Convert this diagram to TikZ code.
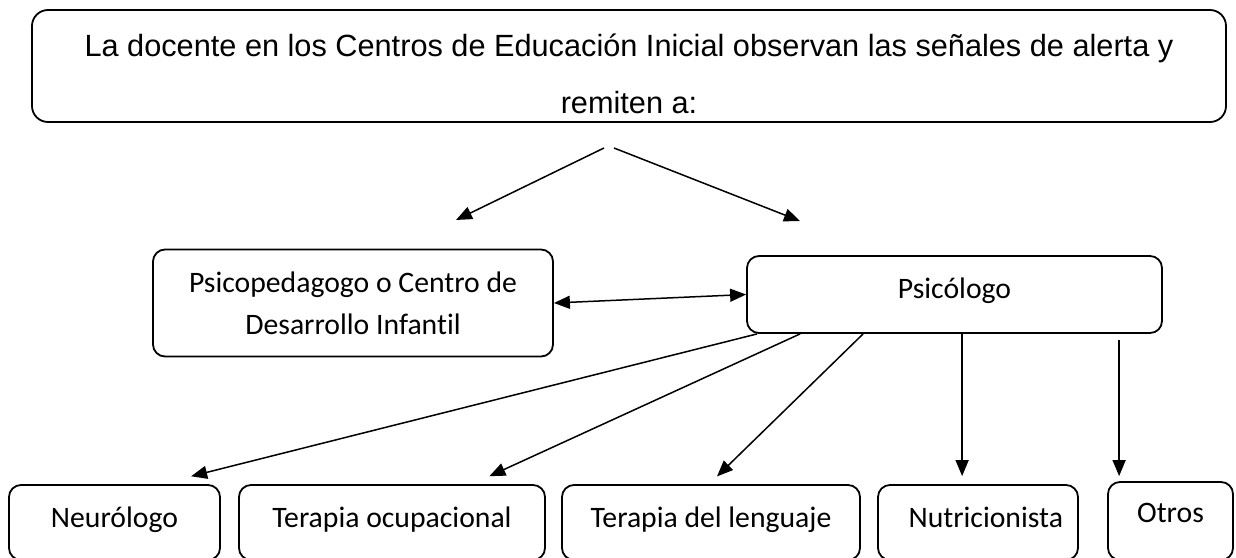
\documentclass[tikz,border=0pt]{standalone}
\usepackage{fontspec}
\setmainfont{Carlito}[Ligatures=NoCommon]
\newfontfamily\arialfont{Liberation Sans}
\usetikzlibrary{arrows.meta}

\begin{document}
\begin{tikzpicture}[x=1pt,y=-1pt]

\tikzstyle{box}=[rectangle,draw,line width=1.8pt,rounded corners=12pt,inner sep=0pt,font=\fontsize{29.7}{42}\selectfont]
\tikzstyle{leaf}=[box,minimum height=75pt,text height=1em,text depth=0.05em]
\tikzstyle{arr}=[line width=1.5pt,-{Triangle[length=16pt,width=13pt]}]

\useasboundingbox (0,0) rectangle (1236,557);

\node[box,rounded corners=16pt,minimum width=1194pt,minimum height=112pt,align=center,
      font=\arialfont\fontsize{30.7}{57}\selectfont] (docente) at (629,66)
      {\rule{0pt}{38pt}La docente en los Centros de Educación Inicial observan las señales de alerta y\\remiten a:} ;

\node[box,minimum width=400pt,minimum height=107pt,align=center] (ped) at (353,303)
      {Psicopedagogo o Centro de\\Desarrollo Infantil} ;
\node[box,minimum width=415pt,minimum height=77pt,text height=1.1em,text depth=0.35em] (psi) at (954.5,294.5) {Psicólogo} ;

\node[leaf,minimum width=211pt] (neu) at (114.5,522.5) {Neurólogo} ;
\node[leaf,minimum width=306pt] (ocu) at (392,522.5)   {Terapia ocupacional} ;
\node[leaf,minimum width=298pt] (len) at (711,522.5)   {Terapia del lenguaje} ;
\node[leaf,minimum width=200pt,text width=170pt,align=right] (nut) at (978,522.5) {Nutricionista} ;
\node[leaf,minimum width=125pt,minimum height=78pt,text height=0.75em,text depth=0.45em] (otr) at (1170.5,521) {Otros} ;

% ends of the two arrows under the top box
\coordinate (forkL) at (604,148) ;
\coordinate (forkR) at (614,148) ;
\coordinate (tipL)  at (456,220) ;
\coordinate (tipR)  at (800,221) ;

\draw[arr] (forkL) -- (tipL) ;
\draw[arr] (forkR) -- (tipR) ;

\draw[line width=1.5pt,{Triangle[length=16pt,width=13pt]}-{Triangle[length=16pt,width=13pt]}] (ped.east) -- (psi.west) ;

\draw[arr,shorten >=32pt]  ([xshift=11pt]psi.south west)  -- ([xshift=152pt]neu.north west) ;
\draw[arr,shorten >=19pt]  ([xshift=54pt]psi.south west)  -- ([xshift=234pt]ocu.north west) ;
\draw[arr,shorten >=11pt]  ([xshift=117pt]psi.south west) -- ([xshift=148pt]len.north west) ;
\draw[arr,shorten >=8pt]   ([xshift=216pt]psi.south west) -- ([xshift=85pt]nut.north west) ;
\draw[arr,shorten <=6pt,shorten >=5pt] ([xshift=373pt]psi.south west) -- ([xshift=12pt]otr.north west) ;

\end{tikzpicture}
\end{document}
